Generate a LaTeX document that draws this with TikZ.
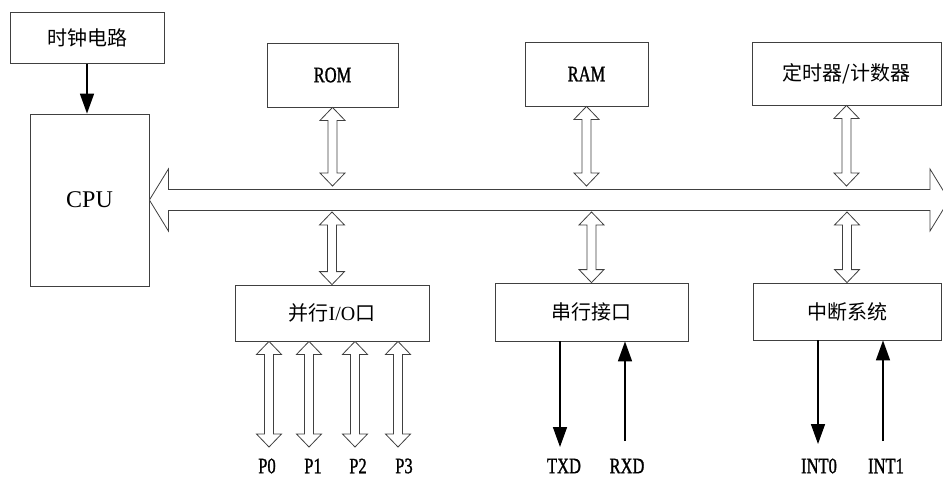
\documentclass[tikz,border=0pt]{standalone}
\usepackage{fontspec}
\setmainfont{Liberation Serif}
\newfontfamily\cjk{Noto Sans CJK SC}
\newfontfamily\narrow[FakeStretch=0.75,FakeBold=1.2]{Liberation Serif}
\usetikzlibrary{arrows.meta,calc}

% hollow two-headed arrow, #1 = upper end, #2 = lower end
\newcommand{\hollowarrow}[2]{%
  \draw[busline] let \p1=(#1), \p2=(#2) in
    (\x1,\y1) -- (\x1+12.5pt,\y1-13pt) -- (\x1+4.5pt,\y1-13pt) -- (\x1+4.5pt,\y2+13pt)
    -- (\x1+12.5pt,\y2+13pt) -- (\x1,\y2) -- (\x1-12.5pt,\y2+13pt) -- (\x1-4.5pt,\y2+13pt)
    -- (\x1-4.5pt,\y1-13pt) -- (\x1-12.5pt,\y1-13pt) -- cycle;}

\begin{document}
\begin{tikzpicture}[x=1pt,y=-1pt,
    box/.style={draw=black!75, line width=0.8pt, inner sep=0pt},
    zh/.style={font=\cjk\fontsize{20}{20}\selectfont},
    en/.style={font=\narrow\fontsize{22}{22}\selectfont, inner sep=1pt},
    busline/.style={draw=black!75, line width=0.8pt, fill=white},
    sig/.style={line width=1.6pt, -{Triangle[length=20pt,width=14pt]}}]
  \useasboundingbox (0,0) rectangle (943,477);

  \node[box,zh,minimum width=154pt,minimum height=51pt] (clock) at (87,38) {时钟电路};
  \node[box,font=\fontsize{24}{24}\selectfont,minimum width=119pt,minimum height=172pt] (cpu) at (89.5,200) {CPU};
  \node[box,en,minimum width=131pt,minimum height=64pt] (rom) at (332.5,75) {ROM};
  \node[box,en,minimum width=123pt,minimum height=64pt] (ram) at (586.5,74) {RAM};
  \node[box,zh,minimum width=189pt,minimum height=63pt] (timer) at (846.5,73.5) {定时器/计数器};
  \node[box,zh,minimum width=194pt,minimum height=56pt] (pio) at (332,313) {并行{\rmfamily I/O}口};
  \node[box,zh,minimum width=193pt,minimum height=58pt] (ser) at (591.5,312) {串行接口};
  \node[box,zh,minimum width=188pt,minimum height=57pt] (intr) at (847,311.5) {中断系统};

  % system bus
  \coordinate (busend) at (949,200);
  \coordinate (bustop) at (0,186);
  \coordinate (busbot) at (0,212);
  \draw[busline] let \p1=(cpu.east), \p2=(busend) in
    (\x1,\y1) -- (\x1+19pt,\y1+31pt) -- (\x1+19pt,\y1+10.5pt) -- (\x2-19pt,\y1+10.5pt)
    -- (\x2-19pt,\y1+31pt) -- (\x2,\y1) -- (\x2-19pt,\y1-31pt) -- (\x2-19pt,\y1-10.5pt)
    -- (\x1+19pt,\y1-10.5pt) -- (\x1+19pt,\y1-31pt) -- cycle;

  \hollowarrow{rom.south}{rom.south |- bustop}
  \hollowarrow{ram.south}{ram.south |- bustop}
  \hollowarrow{timer.south}{timer.south |- bustop}
  \hollowarrow{pio.north |- busbot}{pio.north}
  \hollowarrow{ser.north |- busbot}{ser.north}
  \hollowarrow{intr.north |- busbot}{intr.north}

  \draw[sig] (clock.south) -- (clock.south |- cpu.north);

  % ports
  \coordinate (p0end) at (269,447);
  \coordinate (p1end) at (309,447);
  \coordinate (p2end) at (355,447);
  \coordinate (p3end) at (398,447);
  \hollowarrow{pio.south -| p0end}{p0end}
  \hollowarrow{pio.south -| p1end}{p1end}
  \hollowarrow{pio.south -| p2end}{p2end}
  \hollowarrow{pio.south -| p3end}{p3end}
  \node[en] (p0) at (267,466) {P0};
  \node[en] (p1) at (313,466) {P1};
  \node[en] (p2) at (358,466) {P2};
  \node[en] (p3) at (404,466) {P3};

  \coordinate (txdend) at (560,447);
  \coordinate (rxdstart) at (625,441);
  \draw[sig] (ser.south -| txdend) -- (txdend);
  \draw[sig] (rxdstart) -- (rxdstart |- ser.south);
  \node[en] (txd) at (564,466) {TXD};
  \node[en] (rxd) at (627,466) {RXD};

  \coordinate (int0end) at (818,444);
  \coordinate (int1start) at (883,441);
  \draw[sig] (intr.south -| int0end) -- (int0end);
  \draw[sig] (int1start) -- (int1start |- intr.south);
  \node[en] (int0) at (819,466) {INT0};
  \node[en] (int1) at (886,466) {INT1};
\end{tikzpicture}
\end{document}
